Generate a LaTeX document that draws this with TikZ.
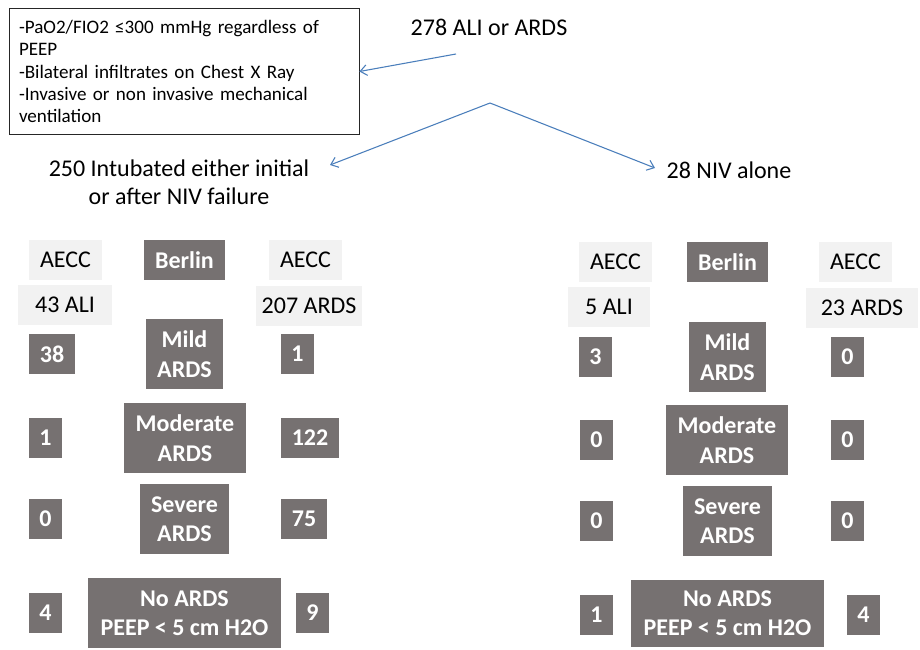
\documentclass[tikz,border=0pt]{standalone}
\usepackage{fontspec}
\setmainfont{Carlito}
\usetikzlibrary{arrows.meta}
\definecolor{dkgrey}{HTML}{767171}
\definecolor{ltgrey}{HTML}{F2F2F2}
\definecolor{arrblue}{HTML}{4A7EBB}
\tikzset{
  dk/.style={fill=dkgrey, text=white, inner sep=0pt, align=center,
    font=\fontsize{18}{22}\selectfont\bfseries},
  lt/.style={fill=ltgrey, text=black, inner sep=0pt, align=center,
    font=\fontsize{18}{22}\selectfont},
  plain/.style={inner sep=0pt, align=center, font=\fontsize{18}{21}\selectfont},
  conn/.style={draw=arrblue, line width=0.8pt, -{Straight Barb[length=5pt,width=8pt]}}
}
\newcommand\bx[7]{\node[#1, minimum width={(#5-#3)*0.75pt}, minimum height={(#6-#4)*0.75pt}] (#2) at ({(#3+#5)/2},{(#4+#6)/2}) {#7};}
\begin{document}
\begin{tikzpicture}[x=0.75pt,y=-0.75pt]
\useasboundingbox (0,0) rectangle (920,649);
% criteria box
\node[draw=black!85, line width=0.6pt, minimum width=262.5pt, minimum height=94.5pt,
  text width=247.5pt, inner xsep=7.5pt, inner ysep=0pt, align=left,
  font=\fontsize{14.3}{16.6}\selectfont] (crit) at (184,71.5)
  {-PaO2/FIO2 ≤300 mmHg regardless of\\PEEP\\-Bilateral infiltrates on Chest X Ray\\-Invasive or non invasive mechanical\\ventilation};
\node[plain] (top) at (489,27) {278 ALI or ARDS};
\node[plain] (intub) at (179,182) {250 Intubated either initial\\or after NIV failure};
\node[plain] (niv) at (729,170) {28 NIV alone};
\coordinate (s1) at (456,54);
\coordinate (apex) at (490,103);
\coordinate (e2) at (330,165);
\coordinate (e3) at (655,168);
\draw[conn] (s1) -- (crit.east);
\draw[conn] (apex) -- (e2);
\draw[conn] (apex) -- (e3);
% left panel
\bx{lt}{la1}{29}{240}{102}{280}{AECC}
\bx{dk}{lb}{144}{240}{225}{280}{Berlin}
\bx{lt}{la2}{269}{240}{342}{280}{AECC}
\bx{lt}{lali}{18}{285}{112}{325}{43 ALI}
\bx{lt}{lards}{256}{286}{362}{326}{207 ARDS}
\bx{dk}{lmild}{146}{319}{223}{389}{Mild\\ARDS}
\bx{dk}{lm1}{29}{334}{75}{374}{38}
\bx{dk}{lm2}{281}{334}{314}{374}{1}
\bx{dk}{lmod}{124}{403}{246}{473}{Moderate\\ARDS}
\bx{dk}{lo1}{29}{418}{62}{458}{1}
\bx{dk}{lo2}{281}{418}{339}{458}{122}
\bx{dk}{lsev}{140}{484}{229}{554}{Severe\\ARDS}
\bx{dk}{ls1}{29}{499}{62}{539}{0}
\bx{dk}{ls2}{281}{499}{327}{539}{75}
\bx{dk}{lno}{88}{578}{281}{648}{No ARDS\\PEEP < 5 cm H2O}
\bx{dk}{ln1}{29}{593}{62}{633}{4}
\bx{dk}{ln2}{296}{593}{329}{633}{9}
% right panel
\bx{lt}{ra1}{579}{242}{652}{282}{AECC}
\bx{dk}{rb}{687}{242}{768}{282}{Berlin}
\bx{lt}{ra2}{819}{242}{892}{282}{AECC}
\bx{lt}{rali}{568}{287}{650}{327}{5 ALI}
\bx{lt}{rards}{806}{288}{918}{328}{23 ARDS}
\bx{dk}{rmild}{689}{322}{766}{392}{Mild\\ARDS}
\bx{dk}{rm1}{579}{337}{612}{377}{3}
\bx{dk}{rm2}{831}{337}{864}{377}{0}
\bx{dk}{rmod}{666}{405}{788}{475}{Moderate\\ARDS}
\bx{dk}{ro1}{580}{420}{613}{460}{0}
\bx{dk}{ro2}{831}{420}{864}{460}{0}
\bx{dk}{rsev}{683}{486}{772}{556}{Severe\\ARDS}
\bx{dk}{rs1}{580}{501}{613}{541}{0}
\bx{dk}{rs2}{831}{501}{864}{541}{0}
\bx{dk}{rno}{631}{580}{824}{647}{No ARDS\\PEEP < 5 cm H2O}
\bx{dk}{rn1}{580}{595}{613}{635}{1}
\bx{dk}{rn2}{847}{595}{880}{635}{4}
\end{tikzpicture}
\end{document}
